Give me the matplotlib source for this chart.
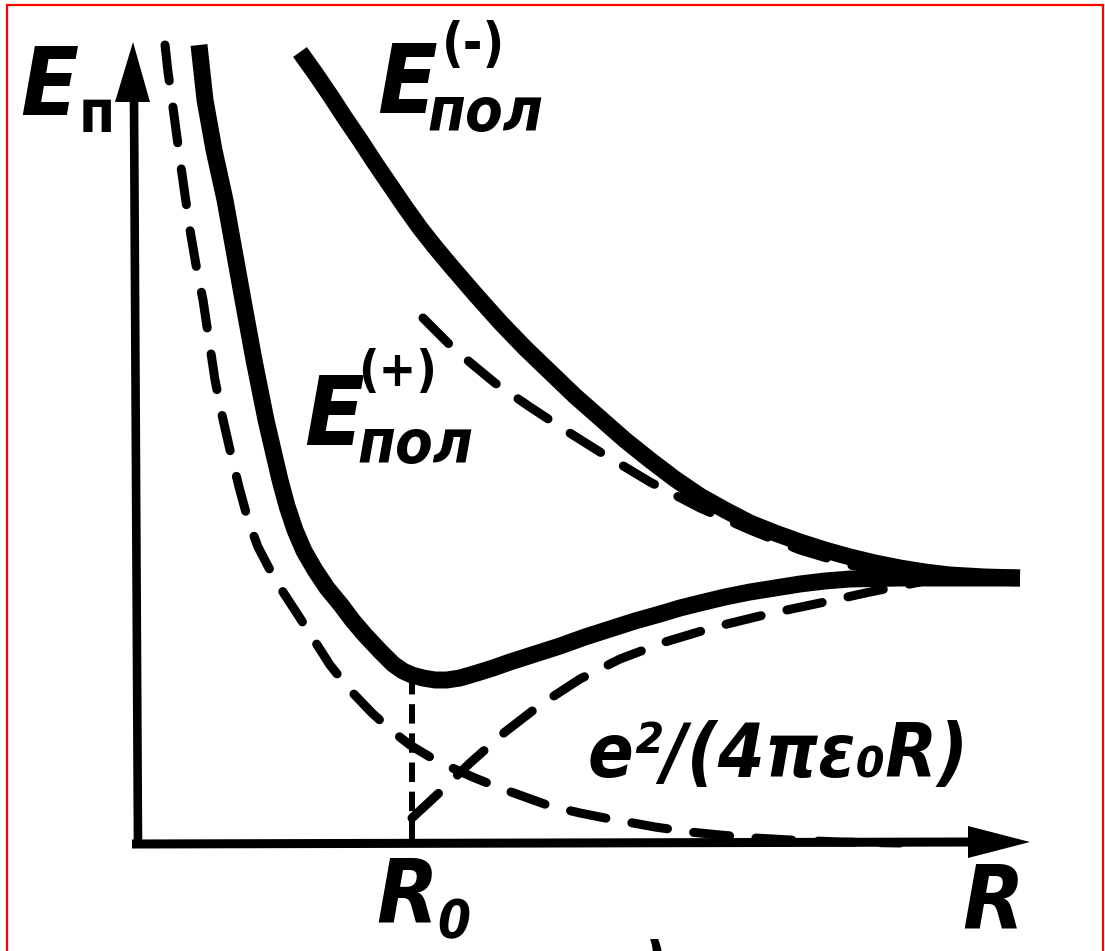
import matplotlib
matplotlib.use("Agg")
import matplotlib.pyplot as plt
from matplotlib.lines import Line2D

plt.rcParams['lines.scale_dashes'] = False

W, H, DPI = 1105, 951, 100

# Potential energy of the H2+ ion vs. internuclear distance R (arbitrary units)
# bonding state E_пол(+)
R_plus = [0.61, 0.67, 0.76, 0.87, 0.96, 1.05, 1.16, 1.28, 1.42, 1.49, 1.57, 1.66,
          1.77, 1.89, 2.03, 2.15, 2.27, 2.42, 2.55, 2.65, 2.74, 2.85, 2.97, 3.09,
          3.22, 3.39, 3.55, 3.72, 3.97, 4.22, 4.47, 4.72, 4.97, 5.22, 5.42, 5.62,
          5.87, 6.12, 6.37, 6.62, 6.87, 7.12, 7.37, 7.62, 8.82]
E_plus = [7.98, 7.43, 6.93, 6.43, 5.93, 5.43, 4.83, 4.23, 3.63, 3.37, 3.13, 2.92,
          2.73, 2.55, 2.38, 2.22, 2.08, 1.92, 1.79, 1.72, 1.68, 1.65, 1.63, 1.63,
          1.65, 1.70, 1.75, 1.81, 1.89, 1.97, 2.06, 2.14, 2.22, 2.29, 2.35, 2.40,
          2.46, 2.51, 2.55, 2.59, 2.62, 2.64, 2.645, 2.65, 2.65]

# antibonding state E_пол(-)
R_minus = [1.62, 1.77, 1.92, 2.07, 2.22, 2.37, 2.52, 2.67, 2.82, 2.97, 3.12, 3.37,
           3.62, 3.87, 4.12, 4.37, 4.62, 4.87, 5.12, 5.37, 5.62, 5.87, 6.12, 6.37,
           6.62, 6.87, 7.12, 7.37, 7.62, 7.87, 8.12, 8.47, 8.82]
E_minus = [7.91, 7.70, 7.48, 7.25, 7.03, 6.80, 6.58, 6.36, 6.15, 5.96, 5.78, 5.49,
           5.21, 4.95, 4.71, 4.47, 4.25, 4.03, 3.83, 3.64, 3.47, 3.33, 3.20, 3.10,
           3.01, 2.93, 2.86, 2.80, 2.75, 2.71, 2.68, 2.66, 2.65]

# dashed approximation running under E_пол(-)
R_minus_appr = [2.85, 3.17, 3.57, 3.92, 4.27, 4.62, 5.12, 5.62, 6.12, 6.62, 7.12, 7.62]
E_minus_appr = [5.25, 4.93, 4.60, 4.36, 4.13, 3.91, 3.61, 3.35, 3.13, 2.93, 2.78, 2.69]

# nuclear repulsion e^2/(4 pi eps0 R)
R_coul = [0.27, 0.30, 0.34, 0.38, 0.42, 0.47, 0.52, 0.58, 0.65, 0.71, 0.77, 0.84,
          0.92, 1.01, 1.10, 1.20, 1.32, 1.45, 1.60, 1.76, 1.92, 2.12, 2.34, 2.54,
          2.72, 2.92, 3.12, 3.37, 3.62, 3.87, 4.12, 4.42, 4.72, 4.95, 5.17, 5.52,
          5.82, 6.17, 6.52, 7.02, 7.62]
E_coul = [7.98, 7.71, 7.43, 7.13, 6.83, 6.48, 6.13, 5.78, 5.43, 5.03, 4.63, 4.28,
          3.93, 3.56, 3.23, 2.96, 2.73, 2.51, 2.28, 2.03, 1.78, 1.53, 1.30, 1.12,
          0.98, 0.86, 0.76, 0.65, 0.55, 0.46, 0.37, 0.30, 0.24, 0.20, 0.16, 0.11,
          0.08, 0.05, 0.03, 0.01, 0.00]

# rising dashed branch starting at R0
R_rise = [2.74, 3.02, 3.32, 3.67, 4.02, 4.42, 4.82, 5.27, 5.77, 6.30, 6.82, 7.32, 7.82]
E_rise = [0.25, 0.51, 0.80, 1.11, 1.38, 1.64, 1.84, 2.01, 2.16, 2.29, 2.40, 2.51, 2.61]

R0 = 2.74
E_R0 = 1.68

# drawing frame: origin of the R/E axes sits 138 px from the left, 843 px from the top
X0, Y0, SCALE = 138.0, 843.0, 100.0


def at(px, py):
    return (px - X0) / SCALE, (Y0 - py) / SCALE


fig = plt.figure(figsize=(W / DPI, H / DPI), dpi=DPI)
ax = fig.add_axes([0, 0, 1, 1])
ax.set_xlim(at(0, 0)[0], at(W, 0)[0])
ax.set_ylim(at(0, H)[1], at(0, 0)[1])
ax.axis('off')

ink = 'black'
thick = 12.2
dash_w = 6.5
dash_style = (0, (26, 19))

# axes with arrows
ax.plot([0.0, -0.04], [-0.05, 7.45], color=ink, lw=6.2, solid_capstyle='butt')
ax.fill([-0.05, -0.23, 0.12], [8.01, 7.41, 7.41], color=ink, lw=0)
ax.plot([-0.06, 8.35], [-0.01, 0.01], color=ink, lw=6.5, solid_capstyle='butt')
ax.fill([8.92, 8.30, 8.30], [0.01, 0.17, -0.15], color=ink, lw=0)

# dashed curves
ax.plot(R_coul, E_coul, color=ink, lw=dash_w, linestyle=dash_style,
        dash_capstyle='round', dash_joinstyle='round')
ax.plot(R_rise, E_rise, color=ink, lw=dash_w, linestyle=dash_style,
        dash_capstyle='round', dash_joinstyle='round')
ax.plot(R_minus_appr, E_minus_appr, color=ink, lw=dash_w, linestyle=dash_style,
        dash_capstyle='round', dash_joinstyle='round')

# R0 marker
ax.plot([R0, R0], [E_R0, 0.0], color=ink, lw=4.3, linestyle=(0, (14, 7)),
        dash_capstyle='butt')

# thick potential curves
ax.plot(R_plus, E_plus, color=ink, lw=thick, solid_capstyle='butt',
        solid_joinstyle='round')
ax.plot(R_minus, E_minus, color=ink, lw=thick, solid_capstyle='butt',
        solid_joinstyle='round')

# labels
ital = dict(family='DejaVu Sans', style='italic', weight='bold',
            stretch='condensed', color=ink, va='baseline', ha='left')
upr = dict(family='DejaVu Sans', style='normal', weight='bold',
           stretch='condensed', color=ink, va='baseline', ha='left')

ax.text(*at(20, 115), 'E', fontsize=68, **ital)
ax.text(*at(79, 132), 'п', fontsize=42, **upr)

ax.text(*at(377, 113), 'E', fontsize=70, **ital)
ax.text(*at(442, 61), '(-)', fontsize=38, **upr)
ax.text(*at(427, 131), 'пол', fontsize=44, **ital)

ax.text(*at(304, 445), 'E', fontsize=70, **ital)
ax.text(*at(358, 386), '(+)', fontsize=36, **upr)
ax.text(*at(357, 463), 'пол', fontsize=44, **ital)

ax.text(*at(588, 777), 'e²/(4πε₀R)', fontsize=54, **ital)

ax.text(*at(962, 928), 'R', fontsize=64, **ital)
ax.text(*at(376, 923), 'R', fontsize=64, **ital)
ax.text(*at(437, 938), '0', fontsize=38, **ital)

ax.text(*at(605, 985), 'а)', fontsize=44, **ital)

# red frame
frame = dict(color='#ff0000', lw=1.6, transform=fig.transFigure)
fig.add_artist(Line2D([6.5 / W, 6.5 / W], [0, 1 - 4.5 / H], **frame))
fig.add_artist(Line2D([6.5 / W, 1 - 2.5 / W], [1 - 4.5 / H, 1 - 4.5 / H], **frame))
fig.add_artist(Line2D([1 - 2.5 / W, 1 - 2.5 / W], [0, 1 - 4.5 / H], **frame))

fig.savefig('out.png', dpi=DPI, facecolor='white')
